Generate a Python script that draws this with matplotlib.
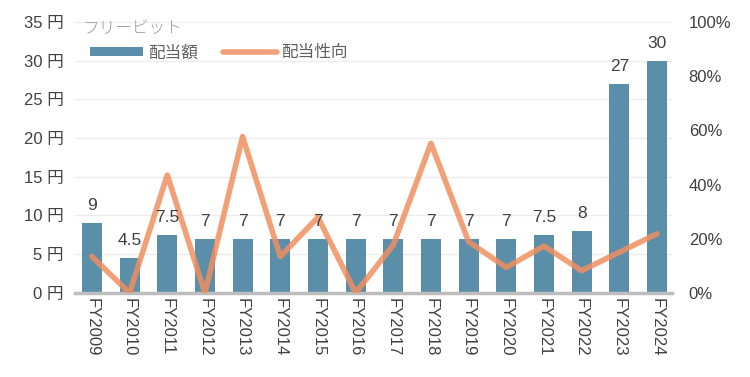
import matplotlib.pyplot as plt
import numpy as np

plt.rcParams['font.family'] = ['Liberation Sans', 'Noto Sans CJK JP', 'DejaVu Sans']

years = ['FY2009', 'FY2010', 'FY2011', 'FY2012', 'FY2013', 'FY2014', 'FY2015', 'FY2016',
         'FY2017', 'FY2018', 'FY2019', 'FY2020', 'FY2021', 'FY2022', 'FY2023', 'FY2024']
dividend = [9, 4.5, 7.5, 7, 7, 7, 7, 7, 7, 7, 7, 7, 7.5, 8, 27, 30]
payout = [13.4, 0, 43.5, 0, 57.7, 13.4, 27.9, 0, 17.7, 55.2, 18.9, 9.4, 17.3, 8.2, 15.0, 21.8]

bar_color = '#5b8ea8'
line_color = '#ef8f5f'
text_color = '#404040'

fig = plt.figure(figsize=(7.5, 3.77), dpi=100)
ax = fig.add_axes([0.1, 0.223, 0.796, 0.719])
ax2 = ax.twinx()
ax.set_zorder(1)
ax.patch.set_visible(False)
ax2.set_ylim(0, 100)

x = np.arange(len(years))
bars = ax.bar(x, dividend, width=0.53, color=bar_color, label='配当額', zorder=2)
# payout line drawn on ax (in front of bars) but in ax2's % scale
line, = ax.plot(x, payout, color=line_color, lw=4, alpha=0.85, solid_capstyle='round',
                transform=ax2.transData, zorder=3, label='配当性向')

for xi, v in zip(x, dividend):
    ax.text(xi, v + 1.3, f'{v:g}', ha='center', va='bottom', fontsize=12.5,
            color=text_color, zorder=4)

ax.set_xlim(-0.45, 15.4)
ax.set_ylim(0, 35)
ax.set_yticks(np.arange(0, 36, 5))
ax.set_yticklabels([f'{v} 円' for v in range(0, 36, 5)])
ax2.set_yticks(np.arange(0, 101, 20))
ax2.set_yticklabels([f'{v}%' for v in range(0, 101, 20)])
ax.set_xticks(x)
ax.set_xticklabels(years, rotation=-90)

ax.grid(axis='y', color='#ececec', lw=1, zorder=0)
ax.set_axisbelow(True)
for a in (ax, ax2):
    for s in ['top', 'right', 'left', 'bottom']:
        a.spines[s].set_visible(False)
    a.tick_params(length=0, labelsize=12, colors=text_color)
ax.spines['bottom'].set_visible(True)
ax.spines['bottom'].set_color('#bdbdbd')
ax.spines['bottom'].set_linewidth(2.5)
ax.tick_params(axis='y', pad=8)
ax.tick_params(axis='x', pad=4)
ax2.tick_params(axis='y', pad=12)

ax.text(-0.25, 34.2, 'フリービット', fontsize=12, color='#999999', va='center', ha='left',
        family=['Noto Sans CJK JP'], fontweight='light')
ax.legend(handles=[bars, line], loc='upper left', bbox_to_anchor=(0.0, 0.97), ncol=2,
          frameon=False, fontsize=12, handlelength=3.2, handleheight=0.5,
          columnspacing=1.5, handletextpad=0.3, labelcolor='#606060')

fig.savefig('out.png', dpi=100)
